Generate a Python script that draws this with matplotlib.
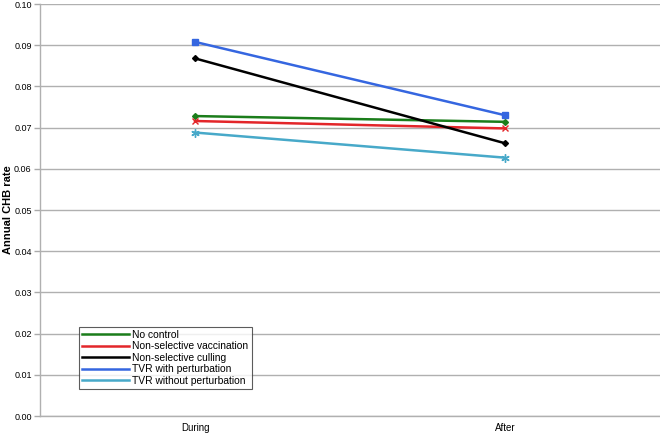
import matplotlib
matplotlib.use("Agg")
import matplotlib.pyplot as plt
from matplotlib.ticker import MultipleLocator, FormatStrFormatter

plt.rcParams['font.family'] = ['Liberation Sans', 'DejaVu Sans']

categories = ["During", "After"]
series_names = ["No control", "Non-selective vaccination", "Non-selective culling",
                "TVR with perturbation", "TVR without perturbation"]
no_control = [0.0728, 0.0714]
ns_vaccination = [0.0716, 0.0698]
ns_culling = [0.0868, 0.0662]
tvr_with = [0.0908, 0.0730]
tvr_without = [0.0688, 0.0627]

values = [no_control, ns_vaccination, ns_culling, tvr_with, tvr_without]
colors = ["#1b7d1b", "#e3262a", "#000000", "#3566e0", "#47a9c9"]
markers = ["D", "x", "D", "s", (6, 2, 0)]
msizes = [3, 4, 3, 4, 6]

fig = plt.figure(figsize=(6.6, 4.33), dpi=100)
ax = fig.add_axes([40/660, (433-416)/433, 620/660, (416-4)/433])

x = [0.5, 1.5]
for name, vals, c, m, ms in zip(series_names, values, colors, markers, msizes):
    ax.plot(x, vals, color=c, lw=1.8, marker=m, ms=ms, mew=1.0, label=name)

ax.set_xlim(0, 2)
ax.set_ylim(0, 0.10)
ax.set_xticks(x)
ax.set_xticklabels(categories, fontsize=7)
ax.yaxis.set_major_locator(MultipleLocator(0.01))
ax.yaxis.set_major_formatter(FormatStrFormatter('%.2f'))
ax.tick_params(axis='y', labelsize=6.5, length=4, color="#aaaaaa", width=1, pad=2)
ax.tick_params(axis='x', length=0, pad=5)
ax.grid(axis='y', color="#b0b0b0", lw=1)
ax.set_axisbelow(True)
for s in ['top', 'right']:
    ax.spines[s].set_visible(False)
for s in ['left', 'bottom']:
    ax.spines[s].set_color("#b0b0b0")
    ax.spines[s].set_linewidth(1)
ax.set_ylabel("Annual CHB rate", fontsize=8, fontweight='bold')
ax.yaxis.set_label_coords(-27/620, 0.5)

leg = ax.legend(loc='lower left', bbox_to_anchor=((79-40)/620, (416-389)/412),
                fontsize=7.4, frameon=True, fancybox=False, handlelength=4.6,
                handletextpad=0.3, borderpad=0.3, labelspacing=0.15,
                borderaxespad=0)
leg.get_frame().set_edgecolor("#333333")
leg.get_frame().set_linewidth(0.8)
for h in leg.legend_handles:
    h.set_marker("")

fig.savefig("out.png", dpi=100)
